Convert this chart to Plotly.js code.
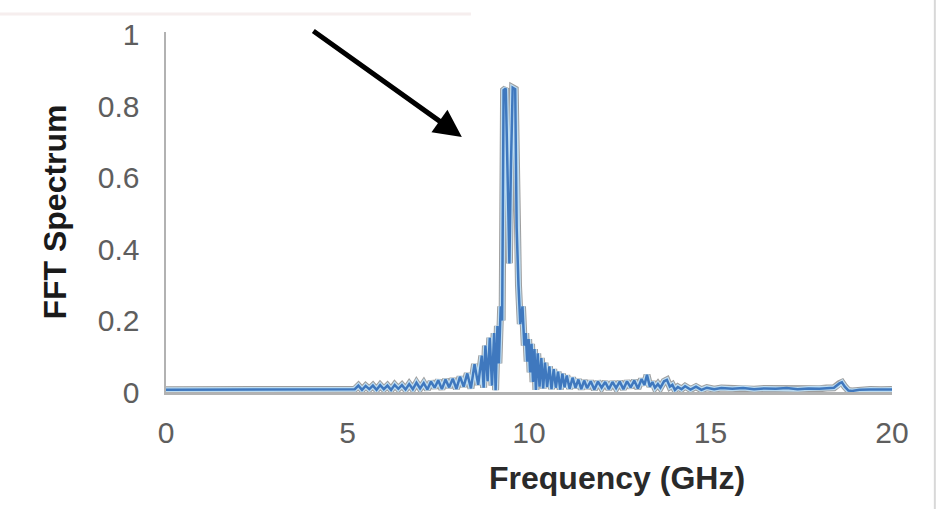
<!DOCTYPE html>
<html>
<head>
<meta charset="utf-8">
<script src="https://cdn.plot.ly/plotly-3.0.1.min.js"></script>
<style>
  html, body { margin: 0; padding: 0; background: #ffffff; }
  #chart { width: 936px; height: 509px; }
</style>
</head>
<body>
<div id="chart"></div>
<script>
// Frequency (GHz) of each sample of the FFT spectrum
var freq = [
  0, 0.5, 1, 1.5, 2, 2.5, 3, 3.5, 4, 4.5, 5, 5.2,
  5.3, 5.4, 5.5, 5.6, 5.7, 5.8, 5.9, 6.0, 6.1, 6.2, 6.3, 6.4, 6.5, 6.6, 6.7, 6.8, 6.9, 7.0,
  7.1, 7.2, 7.3, 7.4, 7.5, 7.6, 7.7, 7.8, 7.9, 8.0, 8.1, 8.2, 8.3, 8.4, 8.5, 8.6, 8.7, 8.75,
  8.8, 8.86, 8.92, 8.98, 9.04, 9.08, 9.13, 9.17, 9.22, 9.26,
  9.3, 9.36, 9.42, 9.46, 9.5, 9.55, 9.62, 9.66, 9.71, 9.76, 9.82, 9.87, 9.91, 9.95, 9.99, 10.03, 10.07,
  10.11, 10.15, 10.19, 10.24, 10.29, 10.34, 10.39, 10.44, 10.5, 10.56, 10.62, 10.68, 10.74,
  10.8, 10.86, 10.92, 10.98, 11.04, 11.12, 11.2, 11.28, 11.36, 11.44, 11.52, 11.6, 11.7,
  11.8, 11.9, 12.0, 12.1, 12.2, 12.3, 12.4, 12.5, 12.6, 12.7, 12.8, 12.9, 13.0, 13.1, 13.18,
  13.25, 13.33, 13.4, 13.47, 13.55, 13.62, 13.72, 13.8, 13.88, 13.95, 14.02, 14.1, 14.2,
  14.3, 14.45, 14.6, 14.75, 14.9, 15.1, 15.3, 15.6, 15.9, 16.2, 16.5, 16.8, 17.1, 17.4,
  17.7, 18.0, 18.2, 18.4, 18.55, 18.62, 18.7, 18.8, 18.9, 19.1, 19.4, 19.7, 20.0
];
// FFT spectrum amplitude (normalised)
var spectrum = [
  0.006, 0.006, 0.007, 0.006, 0.006, 0.007, 0.006, 0.007, 0.006, 0.007, 0.007, 0.008,
  0.018, 0.006, 0.017, 0.008, 0.018, 0.006, 0.019, 0.008, 0.018, 0.006, 0.020, 0.009, 0.019, 0.007, 0.022, 0.008, 0.026, 0.010,
  0.025, 0.007, 0.029, 0.012, 0.033, 0.008, 0.035, 0.013, 0.037, 0.009, 0.043, 0.015, 0.052, 0.010, 0.078, 0.020, 0.102, 0.012,
  0.130, 0.030, 0.152, 0.018, 0.165, 0.005, 0.185, 0.080, 0.240, 0.200,
  0.845, 0.850, 0.560, 0.360, 0.620, 0.852, 0.848, 0.460, 0.300, 0.190, 0.240, 0.130, 0.165, 0.085, 0.148, 0.055, 0.135,
  0.028, 0.120, 0.006, 0.108, 0.015, 0.095, 0.010, 0.082, 0.014, 0.072, 0.008, 0.064, 0.012,
  0.057, 0.007, 0.051, 0.013, 0.046, 0.009, 0.040, 0.012, 0.035, 0.008, 0.032, 0.011, 0.030,
  0.007, 0.029, 0.012, 0.028, 0.008, 0.028, 0.011, 0.029, 0.008, 0.030, 0.013, 0.032, 0.010, 0.036, 0.020,
  0.048, 0.015, 0.028, 0.012, 0.022, 0.012, 0.030, 0.034, 0.015, 0.020, 0.006, 0.014, 0.008,
  0.016, 0.007, 0.015, 0.006, 0.012, 0.008, 0.011, 0.009, 0.011, 0.008, 0.010, 0.009, 0.011, 0.008,
  0.010, 0.009, 0.011, 0.012, 0.024, 0.027, 0.015, 0.004, 0.003, 0.006, 0.007, 0.006, 0.007
];
var xTickVals = [0, 5, 10, 15, 20];
var xTickText = ['0', '5', '10', '15', '20'];
var yTickVals = [0, 0.2, 0.4, 0.6, 0.8, 1];
var yTickText = ['0', '0.2', '0.4', '0.6', '0.8', '1'];
var xTitle = 'Frequency (GHz)';
var yTitle = 'FFT Spectrum';

var FONT = '"Liberation Sans", Arial, sans-serif';

function layer(color, width) {
  return {
    x: freq, y: spectrum, type: 'scatter', mode: 'lines',
    line: { color: color, width: width, shape: 'linear' },
    hoverinfo: 'skip', showlegend: false
  };
}
var traces = [
  layer('#9e9e9e', 7),
  layer('#bcdcf2', 5),
  layer('#3f78be', 2.5)
];
traces[2].name = 'FFT Spectrum';
traces[2].hoverinfo = 'x+y';

var layout = {
  width: 936, height: 509,
  margin: { l: 166, r: 44, t: 32, b: 117, pad: 0 },
  paper_bgcolor: '#ffffff', plot_bgcolor: '#ffffff',
  showlegend: false,
  xaxis: {
    range: [0, 20], tickmode: 'array', tickvals: xTickVals, ticktext: xTickText,
    showgrid: false, zeroline: false, showline: true, linecolor: '#b2b2b2', linewidth: 2.5,
    ticks: '', ticklabelstandoff: 12,
    tickfont: { family: FONT, size: 30, color: '#5e5e5e' }
  },
  yaxis: {
    range: [0, 1.008], tickmode: 'array', tickvals: yTickVals, ticktext: yTickText,
    showgrid: false, zeroline: false, showline: true, linecolor: '#b2b2b2', linewidth: 2.5,
    ticks: '', ticklabelstandoff: 18,
    tickfont: { family: FONT, size: 30, color: '#5e5e5e' },
    title: { text: yTitle, standoff: 22, font: { family: FONT, size: 32, color: '#1a1a1a', weight: 'bold' } }
  },
  annotations: [
    {
      text: xTitle, xref: 'paper', yref: 'paper', x: 0.621, y: 0,
      xanchor: 'center', yanchor: 'middle', yshift: -86, showarrow: false,
      font: { family: FONT, size: 32, color: '#2a2a2a', weight: 'bold' }
    },
    {
      text: '', x: 8.15, y: 0.714, xref: 'x', yref: 'y',
      showarrow: true, ax: -150, ay: -107, axref: 'pixel', ayref: 'pixel',
      arrowcolor: '#000000', arrowwidth: 5, arrowhead: 2, arrowsize: 1.1, standoff: 0
    }
  ],
  shapes: [
    { type: 'line', xref: 'paper', yref: 'paper', x0: 1.059, x1: 1.059, y0: -0.33, y1: 1.09,
      line: { color: '#d8d8d8', width: 2 } },
    { type: 'line', xref: 'paper', yref: 'paper', x0: -0.229, x1: 0.42, y0: 1.05, y1: 1.05,
      line: { color: '#f6eeee', width: 3 } }
  ]
};

Plotly.newPlot('chart', traces, layout, { displayModeBar: false, staticPlot: true });
</script>
</body>
</html>
